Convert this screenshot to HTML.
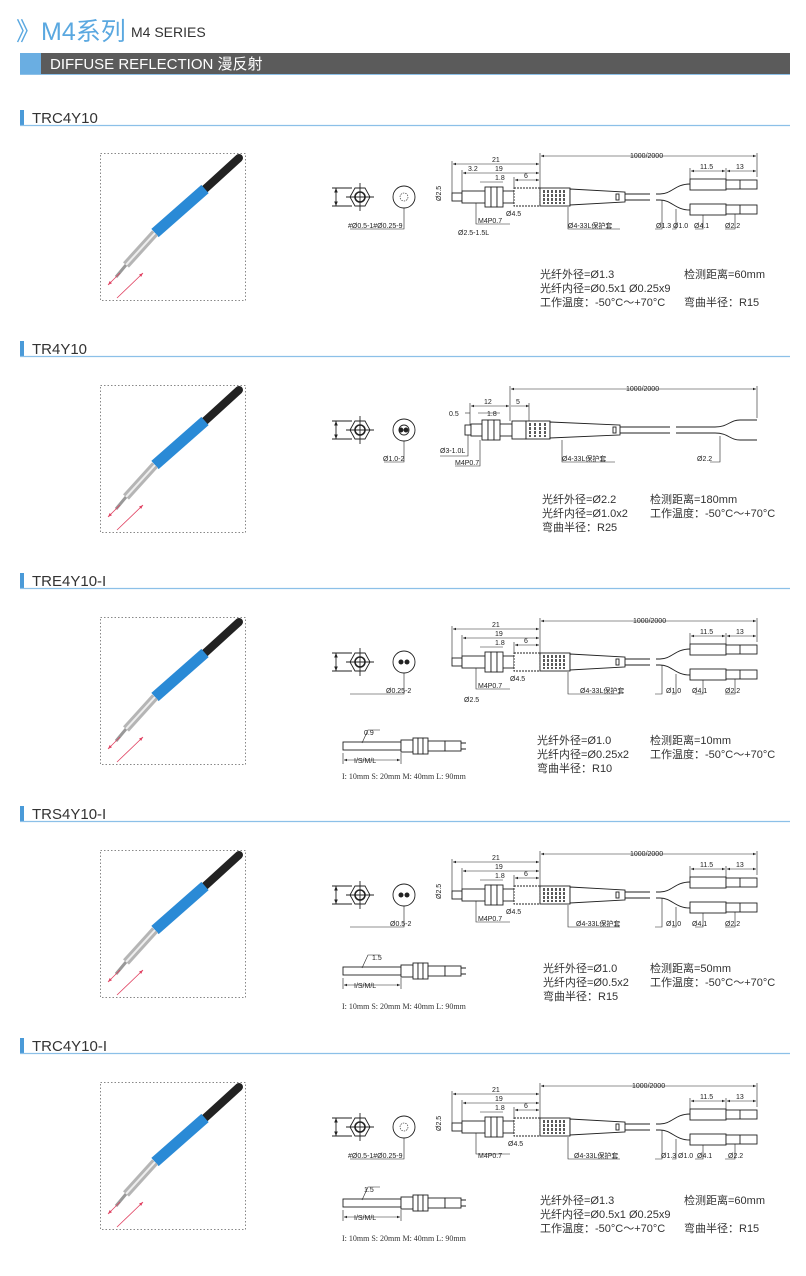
<!DOCTYPE html>
<html><head><meta charset="utf-8"><style>
body{margin:0;background:#fff;}
svg{display:block;font-family:"Liberation Sans","Noto Sans CJK SC",sans-serif;}
.d{font-size:7px;fill:#222;}
.s{font-size:11px;fill:#333;}
.t{font-size:15px;fill:#333;}
</style></head><body>
<svg width="806" height="1276" viewBox="0 0 806 1276" xmlns="http://www.w3.org/2000/svg">
<defs>
<marker id="a" markerWidth="6" markerHeight="6" refX="5" refY="3" orient="auto-start-reverse"><path d="M0,1 L5,3 L0,5Z" fill="#222"/></marker>
<marker id="r" markerWidth="6" markerHeight="6" refX="5" refY="3" orient="auto-start-reverse"><path d="M0,1 L5,3 L0,5Z" fill="#e04060"/></marker>
<g id="photo">
<rect x="0.5" y="0.5" width="145" height="147" fill="none" stroke="#888" stroke-dasharray="1.5,2"/>
<line x1="139" y1="5" x2="105" y2="36" stroke="#222" stroke-width="8" stroke-linecap="round"/>
<line x1="105" y1="36" x2="55" y2="80" stroke="#2a8ad6" stroke-width="11"/>
<line x1="55" y1="80" x2="26" y2="112" stroke="#b5b5b5" stroke-width="8"/>
<line x1="55" y1="80" x2="26" y2="112" stroke="#eee" stroke-width="2"/>
<line x1="26" y1="112" x2="16" y2="124" stroke="#999" stroke-width="3"/>
<line x1="20" y1="120" x2="8" y2="132" stroke="#e04060" stroke-width="0.8" marker-end="url(#r)"/>
<line x1="17" y1="145" x2="43" y2="120" stroke="#e04060" stroke-width="0.8" marker-end="url(#r)"/>
</g>
<g id="ends" fill="none" stroke="#222" stroke-width="0.9">
<polygon points="350,0 355,-9 365,-9 370,0 365,9 355,9"/>
<circle cx="360" cy="0" r="5" stroke-width="1.6"/>
<line x1="346" y1="0" x2="374" y2="0"/><line x1="360" y1="-14" x2="360" y2="14"/>
<line x1="332" y1="-9" x2="352" y2="-9"/><line x1="332" y1="9" x2="352" y2="9"/>
<line x1="336" y1="-9" x2="336" y2="9" marker-start="url(#a)" marker-end="url(#a)"/>
<circle cx="404" cy="0" r="11"/>
</g>
<g id="body" fill="#fff" stroke="#222" stroke-width="0.9">
<rect x="452" y="-4" width="10" height="8"/>
<rect x="462" y="-6" width="52" height="12"/>
<rect x="485" y="-10" width="6" height="20"/><rect x="491" y="-10" width="6" height="20"/><rect x="497" y="-10" width="6" height="20"/>
<rect x="514" y="-9" width="26" height="18" stroke-dasharray="2,1"/>
<rect x="540" y="-9" width="30" height="18"/>
<path d="M544,-7v14M548,-7v14M552,-7v14M556,-7v14M560,-7v14M564,-7v14" stroke-width="1.5" stroke-dasharray="3,1"/>
<path d="M570,-8 L625,-5 L625,5 L570,8Z"/>
<rect x="616" y="-3" width="3" height="6"/>
<path d="M625,-3H650M625,3H650M656,-3H660M656,3H660" fill="none"/>
<path d="M660,-3 C672,-3 675,-13 690,-13 M660,3 C672,3 675,13 690,13" fill="none"/>
<rect x="690" y="-18" width="36" height="11"/><rect x="726" y="-17" width="31" height="9"/><line x1="740" y1="-17" x2="740" y2="-8"/>
<rect x="690" y="7" width="36" height="11"/><rect x="726" y="8" width="31" height="9"/><line x1="740" y1="8" x2="740" y2="17"/>
</g>
<g id="dims" fill="none" stroke="#222" stroke-width="0.6">
<line x1="540" y1="-44" x2="540" y2="-9"/><line x1="757" y1="-44" x2="757" y2="-20"/>
<line x1="541" y1="-41" x2="756" y2="-41" marker-start="url(#a)" marker-end="url(#a)"/>
<line x1="452" y1="-36" x2="452" y2="-4"/>
<line x1="453" y1="-33" x2="539" y2="-33" marker-start="url(#a)" marker-end="url(#a)"/>
<line x1="462" y1="-27" x2="462" y2="-6"/>
<line x1="463" y1="-24" x2="539" y2="-24" marker-start="url(#a)" marker-end="url(#a)"/>
<line x1="514" y1="-20" x2="514" y2="-9"/>
<line x1="515" y1="-17" x2="539" y2="-17" marker-start="url(#a)" marker-end="url(#a)"/>
<line x1="480" y1="-15" x2="503" y2="-15"/>
<line x1="690" y1="-29" x2="690" y2="-18"/><line x1="726" y1="-29" x2="726" y2="-17"/>
<line x1="691" y1="-26" x2="725" y2="-26" marker-start="url(#a)" marker-end="url(#a)"/>
<line x1="727" y1="-26" x2="756" y2="-26" marker-start="url(#a)" marker-end="url(#a)"/>
<path d="M404,11V32H350M476,6V27H510M568,10V32H620M662,3V32H655M676,12V32H672M703,18V32H695M735,17V32H725"/>
</g>
<g id="sub" fill="#fff" stroke="#222" stroke-width="0.9">
<rect x="343" y="-4" width="58" height="8"/>
<rect x="401" y="-6" width="12" height="12"/>
<rect x="413" y="-8" width="5" height="16"/><rect x="418" y="-8" width="5" height="16"/><rect x="423" y="-8" width="5" height="16"/>
<rect x="428" y="-5" width="17" height="10"/><rect x="445" y="-5" width="16" height="10"/>
<path d="M461,-3H466M461,3H466" fill="none"/>
<path d="M343,7V18M401,7V18M362,-3L368,-16H380" fill="none" stroke-width="0.6"/>
<line x1="344" y1="14" x2="400" y2="14" stroke-width="0.6" marker-start="url(#a)" marker-end="url(#a)"/>
</g>
</defs>

<text x="16" y="40" style="font-size:25px;fill:#5aa8e0">》M4系列</text>
<text x="131" y="37" style="font-size:14px;fill:#333">M4 SERIES</text>
<rect x="20" y="53" width="770" height="21" fill="#5b5b5b"/>
<rect x="20" y="53" width="21" height="21" fill="#6aaee2"/>
<line x1="20" y1="74.5" x2="790" y2="74.5" stroke="#8cc0e8"/>
<text x="50" y="69" style="font-size:15px;fill:#fff">DIFFUSE REFLECTION 漫反射</text>

<g fill="#4a9ad8">
<rect x="20" y="110" width="4" height="15"/><rect x="20" y="341" width="4" height="15"/><rect x="20" y="573" width="4" height="15"/><rect x="20" y="806" width="4" height="15"/><rect x="20" y="1038" width="4" height="15"/>
</g>
<g stroke="#8cc0e8" stroke-width="1.2">
<line x1="20" y1="125.5" x2="790" y2="125.5"/><line x1="20" y1="356.5" x2="790" y2="356.5"/><line x1="20" y1="588.5" x2="790" y2="588.5"/><line x1="20" y1="821.5" x2="790" y2="821.5"/><line x1="20" y1="1053.5" x2="790" y2="1053.5"/>
</g>
<text class="t" x="32" y="123">TRC4Y10</text>
<text class="t" x="32" y="354">TR4Y10</text>
<text class="t" x="32" y="586">TRE4Y10-I</text>
<text class="t" x="32" y="819">TRS4Y10-I</text>
<text class="t" x="32" y="1051">TRC4Y10-I</text>

<use href="#photo" x="100" y="153"/>
<use href="#photo" x="100" y="385"/>
<use href="#photo" x="100" y="617"/>
<use href="#photo" x="100" y="850"/>
<use href="#photo" x="100" y="1082"/>

<g transform="translate(0,197)">
<use href="#ends"/><use href="#body"/><use href="#dims"/>
<g fill="none" stroke="#222" stroke-width="0.6"><circle cx="404" cy="0" r="4" stroke-dasharray="1.5,1"/></g>
<g class="d">
<text x="630" y="-39">1000/2000</text><text x="492" y="-35">21</text><text x="495" y="-26">19</text><text x="468" y="-26">3.2</text><text x="495" y="-17">1.8</text><text x="524" y="-19">6</text>
<text x="700" y="-28">11.5</text><text x="736" y="-28">13</text>
<text x="441" y="4" transform="rotate(-90 441 4)">Ø2.5</text>
<text x="348" y="31">#Ø0.5-1#Ø0.25-9</text><text x="478" y="26">M4P0.7</text><text x="458" y="38">Ø2.5-1.5L</text><text x="506" y="19">Ø4.5</text>
<text x="568" y="31">Ø4-33L保护套</text><text x="656" y="31">Ø1.3</text><text x="673" y="31">Ø1.0</text><text x="694" y="31">Ø4.1</text><text x="725" y="31">Ø2.2</text>
</g>
</g>
<g class="s"><text x="540" y="278">光纤外径=Ø1.3</text><text x="540" y="292">光纤内径=Ø0.5x1  Ø0.25x9</text><text x="540" y="306">工作温度：-50°C～+70°C</text><text x="684" y="278">检测距离=60mm</text><text x="684" y="306">弯曲半径：R15</text></g>

<g transform="translate(0,430)">
<use href="#ends"/>
<g fill="#fff" stroke="#222" stroke-width="0.9">
<circle cx="404" cy="0" r="5"/><circle cx="406" cy="0" r="2" fill="#222"/><circle cx="401" cy="0" r="2" fill="#222"/>
<rect x="465" y="-5" width="6" height="10"/><rect x="471" y="-6" width="42" height="12"/>
<rect x="482" y="-10" width="6" height="20"/><rect x="488" y="-10" width="6" height="20"/><rect x="494" y="-10" width="6" height="20"/>
<rect x="512" y="-9" width="14" height="18"/><rect x="526" y="-9" width="24" height="18"/>
<path d="M530,-7v14M535,-7v14M540,-7v14M545,-7v14" stroke-width="1.5" stroke-dasharray="3,1"/>
<path d="M550,-8 L620,-5 L620,5 L550,8Z"/><rect x="613" y="-3" width="3" height="6"/>
<path d="M620,-3H670M620,3H670M676,-3H715M676,3H715M715,-3 C728,-3 730,-10 740,-10H757M715,3 C728,3 730,10 740,10H757" fill="none"/>
</g>
<g fill="none" stroke="#222" stroke-width="0.6">
<line x1="510" y1="-44" x2="510" y2="-9"/><line x1="757" y1="-44" x2="757" y2="-12"/>
<line x1="511" y1="-41" x2="756" y2="-41" marker-start="url(#a)" marker-end="url(#a)"/>
<line x1="470" y1="-27" x2="470" y2="-5"/><line x1="471" y1="-24" x2="509" y2="-24" marker-start="url(#a)" marker-end="url(#a)"/>
<line x1="511" y1="-24" x2="529" y2="-24" marker-end="url(#a)"/><line x1="529" y1="-27" x2="529" y2="-9"/>
<line x1="465" y1="-17" x2="470" y2="-17"/><line x1="478" y1="-17" x2="500" y2="-17"/>
<path d="M404,11V32H384M468,5V26H440M480,10V36H455M562,10V32H615M720,6V32H710"/>
</g>
<g class="d"><text x="626" y="-39">1000/2000</text><text x="484" y="-26">12</text><text x="516" y="-26">5</text><text x="449" y="-14">0.5</text><text x="487" y="-14">1.8</text>
<text x="383" y="31">Ø1.0-2</text><text x="440" y="23">Ø3-1.0L</text><text x="455" y="35">M4P0.7</text><text x="562" y="31">Ø4-33L保护套</text><text x="697" y="31">Ø2.2</text></g>
</g>
<g class="s"><text x="542" y="503">光纤外径=Ø2.2</text><text x="542" y="517">光纤内径=Ø1.0x2</text><text x="542" y="531">弯曲半径：R25</text><text x="650" y="503">检测距离=180mm</text><text x="650" y="517">工作温度：-50°C～+70°C</text></g>

<g transform="translate(0,662)">
<use href="#ends"/><use href="#body"/><use href="#dims"/>
<g fill="#222"><circle cx="401" cy="0" r="2.5"/><circle cx="407" cy="0" r="2.5"/></g>
<g class="d"><text x="633" y="-39">1000/2000</text><text x="492" y="-35">21</text><text x="495" y="-26">19</text><text x="495" y="-17">1.8</text><text x="524" y="-19">6</text><text x="700" y="-28">11.5</text><text x="736" y="-28">13</text>
<text x="386" y="31">Ø0.25-2</text><text x="478" y="26">M4P0.7</text><text x="464" y="40">Ø2.5</text><text x="510" y="19">Ø4.5</text><text x="580" y="31">Ø4-33L保护套</text><text x="666" y="31">Ø1.0</text><text x="692" y="31">Ø4.1</text><text x="725" y="31">Ø2.2</text></g>
</g>
<g transform="translate(0,746)"><use href="#sub"/><text class="d" x="364" y="-11">0.9</text><text class="d" x="354" y="17">I/S/M/L</text></g>
<text x="342" y="779" style="font-family:'Liberation Serif',serif;font-size:8px;fill:#333">I: 10mm S: 20mm M: 40mm L: 90mm</text>
<g class="s"><text x="537" y="744">光纤外径=Ø1.0</text><text x="537" y="758">光纤内径=Ø0.25x2</text><text x="537" y="772">弯曲半径：R10</text><text x="650" y="744">检测距离=10mm</text><text x="650" y="758">工作温度：-50°C～+70°C</text></g>

<g transform="translate(0,895)">
<use href="#ends"/><use href="#body"/><use href="#dims"/>
<g fill="#222"><circle cx="401" cy="0" r="2.5"/><circle cx="407" cy="0" r="2.5"/></g>
<g class="d"><text x="630" y="-39">1000/2000</text><text x="492" y="-35">21</text><text x="495" y="-26">19</text><text x="495" y="-17">1.8</text><text x="524" y="-19">6</text><text x="700" y="-28">11.5</text><text x="736" y="-28">13</text>
<text x="441" y="4" transform="rotate(-90 441 4)">Ø2.5</text>
<text x="390" y="31">Ø0.5-2</text><text x="478" y="26">M4P0.7</text><text x="506" y="19">Ø4.5</text><text x="576" y="31">Ø4-33L保护套</text><text x="666" y="31">Ø1.0</text><text x="692" y="31">Ø4.1</text><text x="725" y="31">Ø2.2</text></g>
</g>
<g transform="translate(0,971)"><use href="#sub"/><text class="d" x="372" y="-11">1.5</text><text class="d" x="354" y="17">I/S/M/L</text></g>
<text x="342" y="1009" style="font-family:'Liberation Serif',serif;font-size:8px;fill:#333">I: 10mm S: 20mm M: 40mm L: 90mm</text>
<g class="s"><text x="543" y="972">光纤外径=Ø1.0</text><text x="543" y="986">光纤内径=Ø0.5x2</text><text x="543" y="1000">弯曲半径：R15</text><text x="650" y="972">检测距离=50mm</text><text x="650" y="986">工作温度：-50°C～+70°C</text></g>

<g transform="translate(0,1127)">
<use href="#ends"/><use href="#body"/><use href="#dims"/>
<g fill="none" stroke="#222" stroke-width="0.6"><circle cx="404" cy="0" r="4" stroke-dasharray="1.5,1"/></g>
<g class="d"><text x="632" y="-39">1000/2000</text><text x="492" y="-35">21</text><text x="495" y="-26">19</text><text x="495" y="-17">1.8</text><text x="524" y="-19">6</text><text x="700" y="-28">11.5</text><text x="736" y="-28">13</text>
<text x="441" y="4" transform="rotate(-90 441 4)">Ø2.5</text>
<text x="348" y="31">#Ø0.5-1#Ø0.25-9</text><text x="478" y="31">M4P0.7</text><text x="508" y="19">Ø4.5</text><text x="574" y="31">Ø4-33L保护套</text><text x="661" y="31">Ø1.3</text><text x="678" y="31">Ø1.0</text><text x="697" y="31">Ø4.1</text><text x="728" y="31">Ø2.2</text></g>
</g>
<g transform="translate(0,1203)"><use href="#sub"/><text class="d" x="364" y="-11">1.5</text><text class="d" x="354" y="17">I/S/M/L</text></g>
<text x="342" y="1241" style="font-family:'Liberation Serif',serif;font-size:8px;fill:#333">I: 10mm S: 20mm M: 40mm L: 90mm</text>
<g class="s"><text x="540" y="1204">光纤外径=Ø1.3</text><text x="540" y="1218">光纤内径=Ø0.5x1  Ø0.25x9</text><text x="540" y="1232">工作温度：-50°C～+70°C</text><text x="684" y="1204">检测距离=60mm</text><text x="684" y="1232">弯曲半径：R15</text></g>
</svg>
</body></html>
